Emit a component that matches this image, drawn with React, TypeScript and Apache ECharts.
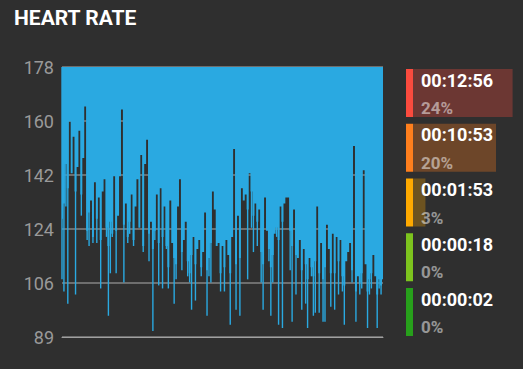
import React, { useEffect, useRef } from "react";
import * as echarts from "echarts";

// Top of the dark region (heart-rate level) per ~2px column
const hrLevel: number[] = [
  128, 133, 146, 138, 160, 143, 155, 137, 145, 157, 136, 148, 165, 124, 130, 134, 122, 140, 128, 135, 121, 137, 141, 125, 119, 127, 123,
  142, 124, 129, 142, 164, 126, 133, 122, 127, 136, 121, 132, 141, 125, 149, 119, 146, 154, 123, 127, 118, 124, 136, 120, 138, 122, 132, 119,
  112, 134, 120, 115, 113, 132, 141, 117, 121, 127, 114, 110, 116, 122, 113, 118, 121, 112, 117, 130, 111, 115, 120, 137, 131, 119, 120, 110,
  119, 112, 121, 116, 110, 122, 151, 113, 129, 115, 138, 134, 136, 131, 143, 137, 129, 133, 127, 131, 117, 113, 135, 124, 118, 112, 116, 123,
  125, 121, 132, 127, 133, 135, 135, 124, 119, 131, 116, 115, 121, 111, 118, 113, 108, 115, 112, 109, 114, 132, 110, 120, 108, 112, 126, 118, 110,
  123, 110, 122, 114, 121, 109, 106, 114, 117, 120, 111, 152, 104, 109, 107, 110, 144, 113, 104, 108, 110, 116, 109, 103, 108, 106, 108,
];
// Lowest point of the short drops (thin blue spikes); null where there is none
const hrDrop: (number | null)[] = [
  108, 104, 132, 100, null, null, null, 103, null, null, 129, null, null, 121, 119, null, 120, null, 120, null, 105, null, null, 122, 96, 110, 122,
  null, 110, null, null, null, 107, null, 120, 123, null, 119, null, null, null, null, 117, null, null, 114, null, 91, 121, null, 106, null, 105, null, 118,
  105, null, null, 100, 108, null, null, 111, null, null, 109, 107, 98, null, 101, null, null, 109, null, null, 96, 109, 107, null, null, null, null, 104,
  null, 104, null, null, 93, null, null, 98, null, 96, null, null, null, 108, null, 125, 117, null, 119, null, 107, 98, null, null, 114, 96, 107, null,
  122, 93, null, 92, null, null, null, 111, 94, null, 103, null, null, 98, null, 100, 92, null, 109, 96, 97, null, 97, null, 94, 94, null, null, 99,
  null, 98, null, 103, null, 104, 93, null, null, null, 107, null, 94, null, 103, 105, null, null, 92, 103, 105, null, null, 92, 105, 103, null,
];
const sampleIndex: string[] = hrLevel.map((_, i) => String(i));

const yMin = 89;
const yMax = 178;
const yStep = 17.8;

const zoneTimes: string[] = ["00:12:56", "00:10:53", "00:01:53", "00:00:18", "00:00:02"];
const zonePercents: number[] = [24, 20, 3, 0, 0];
const zoneColors: string[] = ["#fb4b3e", "#ff7f1d", "#ffaa00", "#7dc41e", "#27a01b"];

const BLUE = "#2aa9e1";

export default function App() {
  const ref = useRef<HTMLDivElement>(null);
  useEffect(() => {
    if (!ref.current) return;
    const chart = echarts.init(ref.current, undefined, { renderer: "svg" });
    const zoneTop = 69;
    const zoneGap = 54.75;
    const zoneH = 48;
    const pxPerPct = 4.15;
    const graphics: any[] = [
      {
        type: "text",
        left: 14,
        top: 7,
        style: {
          text: "HEART RATE",
          fill: "#ffffff",
          font: "bold 21px Roboto",
        },
      },
    ];
    zoneTimes.forEach((t, i) => {
      const y = zoneTop + i * zoneGap;
      graphics.push({
        type: "rect",
        shape: { x: 406, y, width: 7, height: zoneH },
        style: { fill: zoneColors[i] },
      });
      if (zonePercents[i] > 0) {
        graphics.push({
          type: "rect",
          shape: { x: 413, y, width: zonePercents[i] * pxPerPct, height: zoneH },
          style: { fill: zoneColors[i], opacity: 0.3 },
        });
      }
      graphics.push({
        type: "text",
        x: 421,
        y: y + 11,
        style: {
          text: t,
          fill: "#ffffff",
          font: "bold 18px Roboto",
          textVerticalAlign: "middle",
        },
      });
      graphics.push({
        type: "text",
        x: 421,
        y: y + 39,
        style: {
          text: zonePercents[i] + "%",
          fill: "rgba(255,255,255,0.5)",
          font: "bold 17px Roboto",
          textVerticalAlign: "middle",
        },
      });
    });

    chart.setOption({
      animation: false,
      backgroundColor: "#2f2f2f",
      grid: { left: 62, right: 140, top: 67, bottom: 32, containLabel: false },
      xAxis: {
        type: "category",
        data: sampleIndex,
        boundaryGap: false,
        axisLabel: { show: false },
        axisTick: { show: false },
        axisLine: { show: true, lineStyle: { color: "#a0a0a0", width: 1 } },
        splitLine: { show: false },
      },
      yAxis: {
        type: "value",
        min: yMin,
        max: yMax,
        interval: yStep,
        axisLine: { show: false },
        axisTick: { show: false },
        axisLabel: {
          color: "#9a9a9a",
          fontSize: 18,
          fontFamily: "Roboto",
          margin: 8,
          formatter: (v: number) => String(Math.floor(v + 1e-6)),
        },
        splitLine: { show: true, lineStyle: { color: "#858585", width: 1.5 } },
      },
      series: [
        {
          type: "line",
          data: hrLevel,
          step: "middle",
          symbol: "none",
          silent: true,
          lineStyle: { color: BLUE, width: 0 },
          areaStyle: { origin: "end", color: BLUE, opacity: 1 },
        },
        {
          type: "bar",
          stack: "drop",
          data: hrDrop,
          barWidth: 1.4,
          silent: true,
          itemStyle: { color: "rgba(0,0,0,0)" },
        },
        {
          type: "bar",
          stack: "drop",
          data: hrDrop.map((v) => (v == null ? null : yMax - v)),
          barWidth: 1.4,
          silent: true,
          itemStyle: { color: BLUE },
        },
      ],
      graphic: graphics,
    });
    return () => chart.dispose();
  }, []);
  return (
    <div
      ref={ref}
      style={{ position: "fixed", left: 0, top: 0, width: 523, height: 369 }}
    />
  );
}
